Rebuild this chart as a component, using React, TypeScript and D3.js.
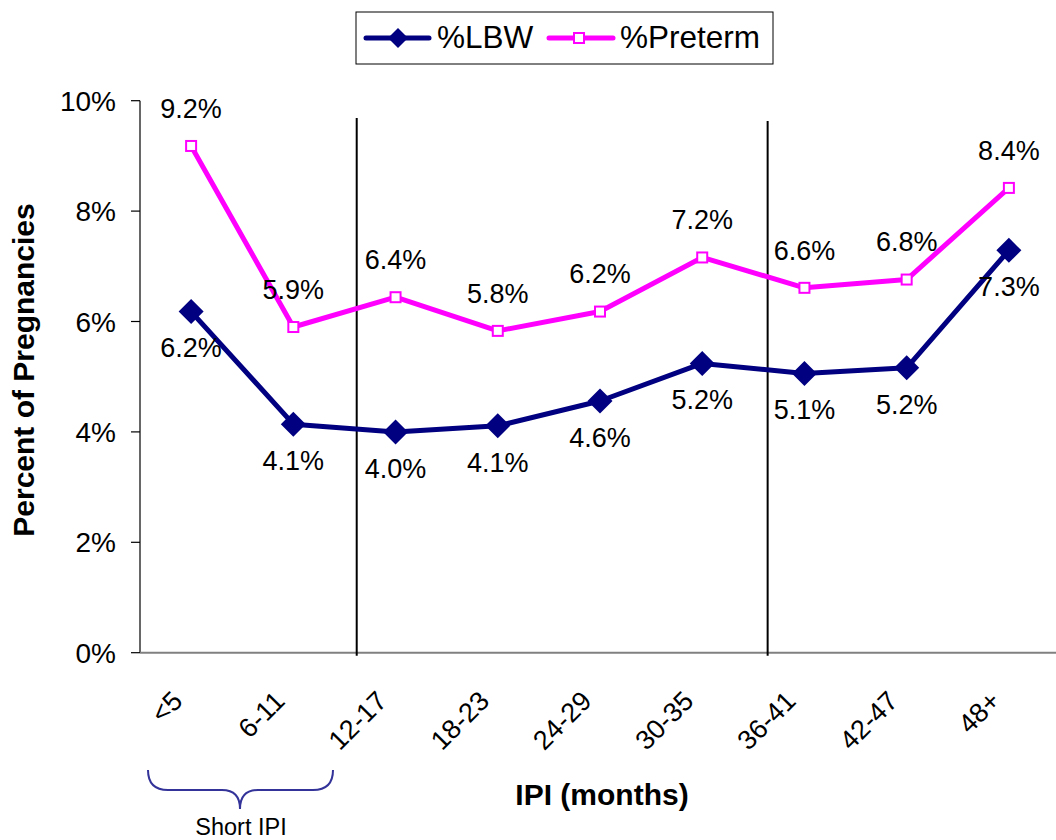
import React from "react";
import * as d3 from "d3";

const categories = ["<5", "6-11", "12-17", "18-23", "24-29", "30-35", "36-41", "42-47", "48+"];
const lbwValues = [6.18, 4.14, 4.0, 4.11, 4.56, 5.24, 5.06, 5.16, 7.29];
const pretermValues = [9.18, 5.9, 6.44, 5.83, 6.18, 7.16, 6.61, 6.76, 8.42];
const yTicks = [0, 2, 4, 6, 8, 10];
const dividerPositions = [2.12, 6.14]; // in category-step units from the plot's left edge

const W = 1056;
const H = 840;
const FONT = "'Liberation Sans', Arial, sans-serif";
const NAVY = "#000080";
const MAGENTA = "#FF00FF";

export default function App() {
  const x = d3.scaleBand<string>().domain(categories).range([140, 1060]).padding(0);
  const y = d3.scaleLinear().domain([0, 10]).range([652.7, 100.7]);
  const cx = (c: string) => (x(c) as number) + x.bandwidth() / 2;
  const fmt = (v: number) => d3.format(".1f")(v) + "%";

  const line = d3
    .line<number>()
    .x((_, i) => cx(categories[i]))
    .y((v) => y(v));

  const diamond = (px: number, py: number, r: number) =>
    `M${px},${py - r}L${px + r},${py}L${px},${py + r}L${px - r},${py}Z`;

  const x0 = 140;
  const axisY = y(0);

  return (
    <svg
      width={W}
      height={H}
      style={{ position: "absolute", left: 0, top: 0, background: "#fff" }}
      fontFamily={FONT}
    >
      <rect width={W} height={H} fill="#fff" />
      {/* Y axis */}
      <line x1={x0} x2={x0} y1={y(10)} y2={axisY} stroke="#000" strokeWidth={1.2} />
      {yTicks.map((t) => (
        <g key={t}>
          <line x1={x0 - 9} x2={x0} y1={y(t)} y2={y(t)} stroke="#000" strokeWidth={1.2} />
          <text x={116} y={y(t)} dy="0.36em" textAnchor="end" fontSize={28} fill="#000">
            {t}%
          </text>
        </g>
      ))}
      {/* X axis */}
      <line x1={x0} x2={W} y1={axisY} y2={axisY} stroke="#808080" strokeWidth={2} />
      {categories.map((c) => (
        <text
          key={c}
          transform={`translate(${cx(c) - 7},${axisY + 50}) rotate(-45)`}
          textAnchor="end"
          fontSize={27}
          fill="#000"
        >
          {c}
        </text>
      ))}
      {/* dividers */}
      {dividerPositions.map((p, i) => {
        const px = x0 + p * x.step();
        return (
          <line
            key={i}
            x1={px}
            x2={px}
            y1={118 + i * 3}
            y2={axisY + 3}
            stroke="#000"
            strokeWidth={2}
          />
        );
      })}
      {/* Lines */}
      <path d={line(pretermValues) || ""} fill="none" stroke={MAGENTA} strokeWidth={5} strokeLinejoin="round" />
      <path d={line(lbwValues) || ""} fill="none" stroke={NAVY} strokeWidth={5} strokeLinejoin="round" />
      {pretermValues.map((v, i) => (
        <rect
          key={"p" + i}
          x={cx(categories[i]) - 5}
          y={y(v) - 5}
          width={10}
          height={10}
          fill="#fff"
          stroke={MAGENTA}
          strokeWidth={2}
        />
      ))}
      {lbwValues.map((v, i) => (
        <path key={"l" + i} d={diamond(cx(categories[i]), y(v), 12.5)} fill={NAVY} />
      ))}
      {/* data labels */}
      {pretermValues.map((v, i) => (
        <text
          key={"pt" + i}
          x={cx(categories[i])}
          y={y(v) - 38}
          dy="0.36em"
          textAnchor="middle"
          fontSize={27}
          fill="#000"
        >
          {fmt(v)}
        </text>
      ))}
      {lbwValues.map((v, i) => (
        <text
          key={"lt" + i}
          x={cx(categories[i])}
          y={y(v) + 36}
          dy="0.36em"
          textAnchor="middle"
          fontSize={27}
          fill="#000"
        >
          {fmt(v)}
        </text>
      ))}
      {/* Axis titles */}
      <text
        transform={`translate(${34},${370}) rotate(-90)`}
        textAnchor="middle"
        fontSize={30}
        fontWeight="bold"
        fill="#000"
      >
        Percent of Pregnancies
      </text>
      <text x={602} y={805} textAnchor="middle" fontSize={30} fontWeight="bold" fill="#000">
        IPI (months)
      </text>
      {/* Short IPI brace */}
      <path
        d="M148,770 Q148,790 168,790 L222,790 Q240,790 240,809 Q240,790 258,790 L313,790 Q333,790 333,770"
        fill="none"
        stroke="#333399"
        strokeWidth={2}
      />
      <text x={241} y={835} textAnchor="middle" fontSize={23.5} fill="#000">
        Short IPI
      </text>
      {/* Legend */}
      <rect x={356} y={12} width={417} height={52} fill="#fff" stroke="#000" strokeWidth={1} />
      <line x1={366} x2={429} y1={38} y2={38} stroke={NAVY} strokeWidth={5} strokeLinecap="round" />
      <path d={diamond(398, 38, 10)} fill={NAVY} />
      <text x={437} y={48} fontSize={31.5} fill="#000">
        %LBW
      </text>
      <line x1={549} x2={613} y1={38} y2={38} stroke={MAGENTA} strokeWidth={5} strokeLinecap="round" />
      <rect x={574} y={33} width={10} height={10} fill="#fff" stroke={MAGENTA} strokeWidth={2} />
      <text x={620} y={48} fontSize={31.5} fill="#000">
        %Preterm
      </text>
    </svg>
  );
}
